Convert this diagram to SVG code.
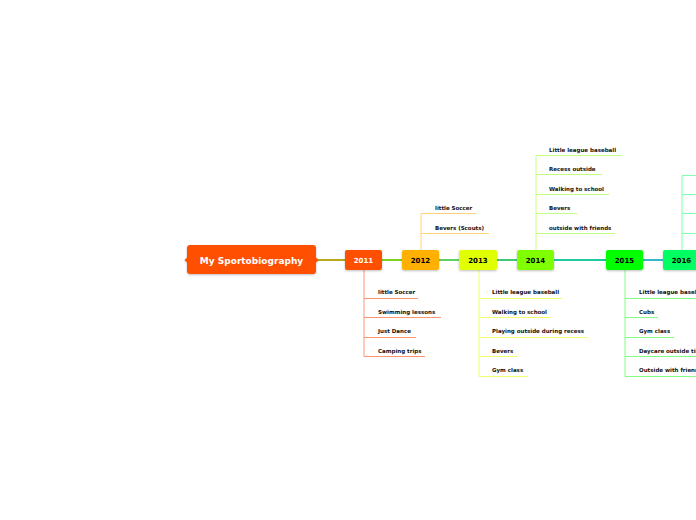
<svg xmlns="http://www.w3.org/2000/svg" width="696" height="520" viewBox="0 0 696 520">
<defs>
<filter id="sh" x="-20%" y="-20%" width="140%" height="160%"><feDropShadow dx="0" dy="1" stdDeviation="0.8" flood-color="#000" flood-opacity="0.25"/></filter>
</defs>
<style>
.yr{font-family:"DejaVu Sans",Verdana,sans-serif;font-weight:bold;font-size:7px;text-anchor:middle}
.it{font-family:"DejaVu Sans",Verdana,sans-serif;font-weight:bold;font-size:5.5px;fill:#111}
.ln{fill:none;stroke-width:1}
</style>
<rect width="696" height="520" fill="#fff"/>
<g id="connectors" fill="none">
<line x1="315" y1="260" x2="345" y2="260" stroke="#b8a820" stroke-width="2"/>
<line x1="382" y1="260" x2="402" y2="260" stroke="#80d020" stroke-width="2"/>
<line x1="439" y1="260" x2="459" y2="260" stroke="#60d060" stroke-width="2"/>
<line x1="497" y1="260" x2="517" y2="260" stroke="#40c878" stroke-width="2"/>
<line x1="554" y1="260" x2="606" y2="260" stroke="#20c8a0" stroke-width="2"/>
<line x1="643" y1="260" x2="663" y2="260" stroke="#30b8c8" stroke-width="2"/>
<g stroke="#ff9570" class="ln">
<path d="M364 270V356.5"/>
<path d="M364 298.5H418M364 317.5H441M364 337.5H416M364 356.5H425"/>
</g>
<g stroke="#ffd27a" class="ln">
<path d="M421 250V233.5"/>
<path d="M421 213.5H476M421 233.5H489M421 213.5V233.5"/>
</g>
<g stroke="#f0ff70" class="ln">
<path d="M479 270V376.5"/>
<path d="M479 298.5H562M479 317.5H551M479 337.5H588M479 356.5H518M479 376.5H528"/>
</g>
<g stroke="#c0ff80" class="ln">
<path d="M536 250V155.5"/>
<path d="M536 155.5H622M536 174.5H602M536 194.5H609M536 213.5H577M536 233.5H615"/>
</g>
<g stroke="#80ff80" class="ln">
<path d="M625 270V376.5"/>
<path d="M625 298.5H700M625 317.5H658M625 337.5H674M625 356.5H700M625 376.5H700"/>
</g>
<g stroke="#80ffb0" class="ln">
<path d="M682 250V175.5"/>
<path d="M682 175.5H700M682 194.5H700M682 213.5H700M682 233.5H700"/>
</g>
</g>
<g id="main">
<path d="M190 245H313Q316 245 316 248V257.5L318.5 260L316 262.5V271Q316 274 313 274H190Q187 274 187 271V262.5L184.5 260L187 257.5V248Q187 245 190 245Z" fill="#ff5000" filter="url(#sh)"/>
<text x="251.5" y="263.5" text-anchor="middle" font-family="DejaVu Sans,Verdana,sans-serif" font-weight="bold" font-size="9" fill="#fff">My Sportobiography</text>
</g>
<g id="y2011"><rect x="345" y="250" width="37" height="20" rx="2" fill="#ff5000" filter="url(#sh)"/><text class="yr" x="363.5" y="262.5" fill="#fff">2011</text></g>
<g id="y2012"><rect x="402" y="250" width="37" height="20" rx="2" fill="#ffb000" filter="url(#sh)"/><text class="yr" x="420.5" y="262.5" fill="#000">2012</text></g>
<g id="y2013"><rect x="459" y="250" width="38" height="20" rx="2" fill="#e0ff00" filter="url(#sh)"/><text class="yr" x="478" y="262.5" fill="#000">2013</text></g>
<g id="y2014"><rect x="517" y="250" width="37" height="20" rx="2" fill="#80ff00" filter="url(#sh)"/><text class="yr" x="535.5" y="262.5" fill="#000">2014</text></g>
<g id="y2015"><rect x="606" y="250" width="37" height="20" rx="2" fill="#00ff00" filter="url(#sh)"/><text class="yr" x="624.5" y="262.5" fill="#000">2015</text></g>
<g id="y2016"><rect x="663" y="250" width="37" height="20" rx="2" fill="#00ff60" filter="url(#sh)"/><text class="yr" x="681.5" y="262.5" fill="#000">2016</text></g>
<g id="items2011">
<text class="it" x="378" y="294">little Soccer</text>
<text class="it" x="378" y="314">Swimming lessons</text>
<text class="it" x="378" y="333">Just Dance</text>
<text class="it" x="378" y="353">Camping trips</text>
</g>
<g id="items2012">
<text class="it" x="435" y="210">little Soccer</text>
<text class="it" x="435" y="230">Bevers (Scouts)</text>
</g>
<g id="items2013">
<text class="it" x="492" y="294">Little league baseball</text>
<text class="it" x="492" y="314">Walking to school</text>
<text class="it" x="492" y="333">Playing outside during recess</text>
<text class="it" x="492" y="353">Bevers</text>
<text class="it" x="492" y="372">Gym class</text>
</g>
<g id="items2014">
<text class="it" x="549" y="152">Little league baseball</text>
<text class="it" x="549" y="171">Recess outside</text>
<text class="it" x="549" y="191">Walking to school</text>
<text class="it" x="549" y="210">Bevers</text>
<text class="it" x="549" y="230">outside with friends</text>
</g>
<g id="items2015">
<text class="it" x="639" y="294">Little league baseball</text>
<text class="it" x="639" y="314">Cubs</text>
<text class="it" x="639" y="333">Gym class</text>
<text class="it" x="639" y="353">Daycare outside time</text>
<text class="it" x="639" y="372">Outside with friends</text>
</g>
</svg>
